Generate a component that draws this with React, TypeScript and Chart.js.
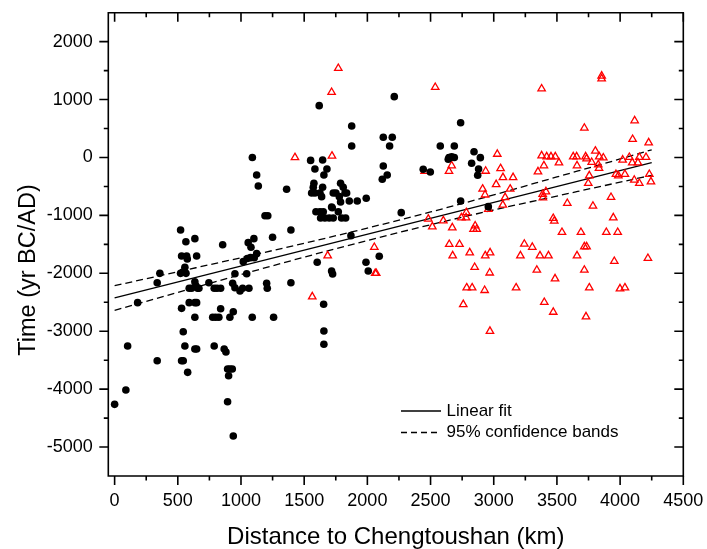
import React, { useEffect, useRef } from "react";
import { Chart, registerables } from "chart.js";

Chart.register(...registerables);

const FONT = "'Liberation Sans', Arial, Helvetica, sans-serif";

const xTitle = "Distance to Chengtoushan (km)";
const yTitle = "Time (yr BC/AD)";
const fitLabel = "Linear fit";
const bandLabel = "95% confidence bands";

const xTicks = [0, 500, 1000, 1500, 2000, 2500, 3000, 3500, 4000, 4500];
const xMinorTicks = [250, 750, 1250, 1750, 2250, 2750, 3250, 3750, 4250];
const yTicks = [-5000, -4000, -3000, -2000, -1000, 0, 1000, 2000];
const yMinorTicks = [-4500, -3500, -2500, -1500, -500, 500, 1500];

const fitX = [0, 4250];
const fitY = [-2426, -88];

const bandX = [0, 500, 1000, 1500, 2000, 2500, 3000, 3500, 4000, 4250];
const bandUpper = [-2214, -1973, -1731, -1481, -1219, -941, -646, -336, -26, 132];
const bandLower = [-2638, -2329, -2021, -1721, -1433, -1161, -906, -666, -426, -308];

// black filled circles
const circles: [number, number][] = [
  [1090, 0], [1551, -50], [1585, -199], [1124, -302], [1137, -492], [1361, -549],
  [1190, -1005], [1212, -1005], [522, -1252], [1395, -1252], [564, -1454], [635, -1402],
  [1250, -1378], [855, -1506], [1057, -1471], [1079, -1551], [1102, -1402], [1124, -1661],
  [530, -1701], [570, -1701], [575, -1753], [649, -1701], [556, -1897], [358, -2001],
  [522, -2001], [540, -1980], [565, -2001], [1018, -1799], [1050, -1745], [1075, -1730],
  [1105, -1730], [952, -2007], [1045, -2007], [337, -2162], [746, -2162],
  [590, -2259], [609, -2259], [635, -2145], [643, -2214], [657, -2259], [667, -2259],
  [934, -2173], [952, -2249], [992, -2306], [1013, -2259], [788, -2259], [810, -2259],
  [839, -2259], [1063, -2259], [1203, -2173], [1208, -2259], [1395, -2162], [182, -2507],
  [590, -2507], [635, -2507], [649, -2507], [530, -2605], [839, -2611], [939, -2663],
  [635, -2760], [776, -2760], [800, -2760], [825, -2760], [912, -2760], [1089, -2760],
  [1258, -2760], [543, -3008], [103, -3255], [556, -3255], [635, -3307], [649, -3307],
  [788, -3255], [867, -3307], [881, -3359], [337, -3509], [530, -3509], [543, -3509],
  [578, -3710], [894, -3653], [912, -3653], [931, -3653], [902, -3768], [89, -4015],
  [0, -4263], [894, -4217], [939, -4810],
  [2213, 1050], [1619, 895], [2738, 601], [1876, 544], [1876, 199], [2126, 349],
  [2197, 349], [2176, 199], [1646, -43], [1680, -199], [1656, -302], [2126, -147],
  [2118, -377], [2157, -302], [2577, 199], [2688, 199], [2646, 0], [2667, 10],
  [2688, 0], [2640, -30], [2844, 100], [2894, -3], [2825, -100], [2880, -199],
  [2873, -307], [2442, -204], [2498, -250],
  [1577, -446], [1788, -446], [1572, -515], [1646, -515], [1809, -515],
  [1559, -613], [1585, -613], [1625, -613], [1730, -613], [1751, -613], [1823, -613],
  [1836, -613], [1638, -676], [1778, -676], [1788, -770], [1717, -855],
  [1593, -936], [1625, -936], [1651, -936], [1770, -936],
  [1630, -1045], [1664, -1045], [1698, -1045], [1730, -1045], [1796, -1045], [1828, -1045],
  [1857, -751], [1920, -751], [1991, -705], [1722, -867], [2268, -953], [2738, -751],
  [2957, -849], [1870, -1350], [1603, -1810], [1717, -1960], [1725, -2012],
  [1989, -1810], [2007, -1960], [2094, -1706], [1654, -2535], [1656, -2996], [1656, -3226],
];

// red open triangles
const triangles: [number, number][] = [
  [1427, 0], [1770, 1540], [1717, 1126], [2537, 1212], [3379, 1186], [3854, 1408],
  [3854, 1361], [4115, 636], [3717, 509], [4099, 314], [4226, 256], [3804, 112],
  [1720, 26], [2453, -238], [2646, -238], [2667, -141], [3028, 58], [2936, -235],
  [3054, -190], [3073, -345], [3153, -345], [3019, -466], [2912, -544], [2931, -645],
  [3130, -544], [3090, -690], [3072, -820], [2957, -892], [2783, -950], [2744, -1040],
  [2781, -1040], [2482, -1062], [2601, -1091], [2514, -1195], [2672, -1212], [2853, -1180],
  [2840, -1240], [2865, -1240], [2055, -1551], [1686, -1696], [2648, -1499], [2729, -1499],
  [2675, -1696], [2810, -1644], [2933, -1696], [2971, -1644], [3211, -1696], [3242, -1494],
  [3305, -1548], [3366, -1696], [3433, -1696], [2062, -2000], [2070, -2000], [2849, -1896],
  [2968, -1992], [3341, -1943], [3485, -2093], [1564, -2404], [2786, -2249], [2829, -2249],
  [2928, -2294], [3177, -2249], [2759, -2538], [3400, -2501], [3471, -2670], [2970, -3000],
  [3379, 31], [3419, 14], [3453, 14], [3487, 14], [3516, -90], [3629, 14], [3656, 14],
  [3727, 14], [3735, -21], [3835, 14], [3867, -5], [3775, -83], [3827, -124], [3833, -187],
  [4073, 3], [4152, 3], [4205, 3], [4020, -43], [4096, -90], [4141, -90], [3397, -141],
  [3659, -141], [3350, -245], [3756, -314], [3748, -446], [3967, -290], [3986, -314],
  [4038, -290], [4112, -389], [4152, -446], [4231, -290], [4244, -418], [3387, -636],
  [3389, -694], [3413, -590], [3582, -791], [3785, -838], [3928, -687], [3946, -1040],
  [3471, -1050], [3479, -1097], [3540, -1292], [3690, -1292], [3891, -1292], [3981, -1292],
  [3717, -1540], [3735, -1540], [3659, -1696], [3954, -1793], [4220, -1741], [3717, -1943],
  [3756, -2249], [3999, -2266], [4038, -2249], [3730, -2749],
];

const zeroPad = (s: any) => {
  s.paddingTop = 0;
  s.paddingBottom = 0;
  s.paddingLeft = 0;
  s.paddingRight = 0;
};

const framePlugin = {
  id: "originFrame",
  afterDraw(chart: any) {
    const { ctx, chartArea } = chart;
    const { left, right, top, bottom } = chartArea;
    const xs = chart.scales.x;
    const ys = chart.scales.y;
    ctx.save();
    ctx.strokeStyle = "#000";
    ctx.lineWidth = 1.6;
    ctx.beginPath();
    ctx.rect(left, top, right - left, bottom - top);
    ctx.stroke();
    ctx.beginPath();
    const major = 9;
    const minor = 4.5;
    for (const v of xTicks) {
      const p = xs.getPixelForValue(v);
      ctx.moveTo(p, bottom); ctx.lineTo(p, bottom + major);
      ctx.moveTo(p, top); ctx.lineTo(p, top + major);
    }
    for (const v of xMinorTicks) {
      const p = xs.getPixelForValue(v);
      ctx.moveTo(p, bottom); ctx.lineTo(p, bottom + minor);
      ctx.moveTo(p, top); ctx.lineTo(p, top + minor);
    }
    for (const v of yTicks) {
      const p = ys.getPixelForValue(v);
      ctx.moveTo(left, p); ctx.lineTo(left - major, p);
      ctx.moveTo(right, p); ctx.lineTo(right - major, p);
    }
    for (const v of yMinorTicks) {
      const p = ys.getPixelForValue(v);
      ctx.moveTo(left, p); ctx.lineTo(left - minor, p);
      ctx.moveTo(right, p); ctx.lineTo(right - minor, p);
    }
    ctx.stroke();

    // y axis title
    ctx.fillStyle = "#000";
    ctx.font = `23.5px ${FONT}`;
    ctx.textAlign = "center";
    ctx.textBaseline = "middle";
    ctx.translate(29, 270);
    ctx.rotate(-Math.PI / 2);
    ctx.fillText(yTitle, 0, 0);
    ctx.restore();

    // legend inside plot
    ctx.save();
    ctx.font = `17px ${FONT}`;
    ctx.fillStyle = "#000";
    ctx.textAlign = "left";
    ctx.textBaseline = "middle";
    ctx.strokeStyle = "#000";
    ctx.lineWidth = 1.3;
    const items = [
      { label: fitLabel, dash: [] as number[], y: 411 },
      { label: bandLabel, dash: [6, 4], y: 432.5 },
    ];
    for (const it of items) {
      ctx.setLineDash(it.dash);
      ctx.beginPath();
      ctx.moveTo(401, it.y);
      ctx.lineTo(441, it.y);
      ctx.stroke();
      ctx.fillText(it.label, 446.5, it.y);
    }
    ctx.restore();
  },
};

export default function App() {
  const ref = useRef<HTMLCanvasElement | null>(null);
  useEffect(() => {
    const canvas = ref.current;
    if (!canvas) return;
    const chart = new Chart(canvas, {
      type: "scatter",
      data: {
        datasets: [
          {
            label: "circles",
            data: circles.map(([x, y]) => ({ x, y })),
            pointStyle: "circle",
            pointRadius: 3.8,
            backgroundColor: "#000",
            borderColor: "#000",
            borderWidth: 0,
            order: 0,
          },
          {
            label: "triangles",
            data: triangles.map(([x, y]) => ({ x, y })),
            pointStyle: "triangle",
            pointRadius: 4.3,
            backgroundColor: "rgba(255,255,255,0)",
            borderColor: "#ff0000",
            borderWidth: 1.3,
            order: 1,
          },
          {
            label: fitLabel,
            data: fitX.map((x, i) => ({ x, y: fitY[i] })),
            showLine: true,
            pointRadius: 0,
            borderColor: "#000",
            borderWidth: 1.3,
            order: 2,
          },
          {
            label: bandLabel,
            data: bandX.map((x, i) => ({ x, y: bandUpper[i] })),
            showLine: true,
            pointRadius: 0,
            borderColor: "#000",
            borderWidth: 1.3,
            borderDash: [7, 4],
            cubicInterpolationMode: "monotone",
            order: 3,
          },
          {
            label: bandLabel,
            data: bandX.map((x, i) => ({ x, y: bandLower[i] })),
            showLine: true,
            pointRadius: 0,
            borderColor: "#000",
            borderWidth: 1.3,
            borderDash: [7, 4],
            cubicInterpolationMode: "monotone",
            order: 4,
          },
        ] as any,
      },
      options: {
        responsive: false,
        animation: false,
        events: [],
        layout: { padding: { top: 12.7, right: 23.7, left: 0, bottom: 0 } },
        plugins: { legend: { display: false }, tooltip: { enabled: false } },
        scales: {
          x: {
            type: "linear",
            min: -50,
            max: 4500,
            afterBuildTicks: (s: any) => {
              s.ticks = xTicks.map((v) => ({ value: v }));
            },
            afterFit: (s: any) => {
              s.height = 73;
              zeroPad(s);
            },
            grid: { display: false, drawTicks: false },
            border: { display: false },
            ticks: {
              padding: 14,
              color: "#000",
              autoSkip: false,
              maxRotation: 0,
              font: { family: FONT, size: 18 },
              callback: (v: any) => String(v),
            },
            title: {
              display: true,
              text: xTitle,
              color: "#000",
              font: { family: FONT, size: 24, lineHeight: 1 },
              padding: { top: 0, bottom: 0 },
            },
          },
          y: {
            type: "linear",
            min: -5500,
            max: 2500,
            afterBuildTicks: (s: any) => {
              s.ticks = yTicks.map((v) => ({ value: v }));
            },
            afterFit: (s: any) => {
              s.width = 108.3;
              zeroPad(s);
            },
            grid: { display: false, drawTicks: false },
            border: { display: false },
            ticks: {
              padding: 15.6,
              color: "#000",
              autoSkip: false,
              font: { family: FONT, size: 18 },
              callback: (v: any) => String(v),
            },
            title: { display: false },
          },
        },
      },
      plugins: [framePlugin],
    });
    return () => chart.destroy();
  }, []);
  return (
    <div style={{ position: "absolute", left: 0, top: 0, width: 707, height: 549, background: "#fff" }}>
      <canvas ref={ref} width={707} height={549} />
    </div>
  );
}
